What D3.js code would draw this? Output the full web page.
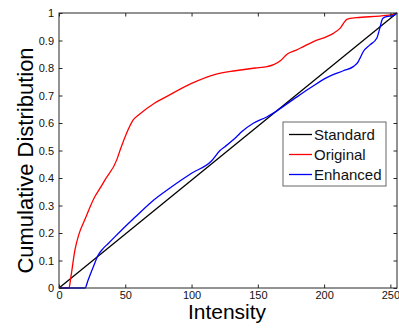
<!DOCTYPE html>
<html>
<head>
<meta charset="utf-8">
<script src="https://cdn.jsdelivr.net/npm/d3@7"></script>
<style>
  body { margin: 0; background: #fff; }
  text { font-family: "Liberation Sans", Arial, sans-serif; }
</style>
</head>
<body>
<div id="chart"></div>
<script>
// intensity values (0-255) and cumulative distribution values
const standardX = [0, 255];
const standardY = [0, 1];

const originalX = [0, 7.5, 9, 12, 15, 19.6, 27, 31, 34.7, 43.5, 46, 51, 56, 60, 72, 80, 100, 118, 133, 148, 157, 162, 167, 172, 179, 184, 192, 202, 207, 212, 217.5, 224.6, 242, 252, 255];
const originalY = [0, 0, 0.041, 0.138, 0.195, 0.25, 0.332, 0.363, 0.393, 0.465, 0.5, 0.563, 0.611, 0.629, 0.672, 0.693, 0.744, 0.777, 0.79, 0.8, 0.805, 0.812, 0.826, 0.85, 0.865, 0.877, 0.896, 0.914, 0.926, 0.944, 0.978, 0.983, 0.989, 0.995, 1];

const enhancedX = [0, 19.6, 22, 25.9, 29.6, 33.4, 37.2, 47.3, 57.3, 70, 85, 100, 115, 121.5, 125.2, 134, 137.8, 146.6, 156.7, 161.7, 176.8, 189.4, 202, 214.5, 222, 225.8, 227, 229.6, 234.6, 239.7, 242, 244.2, 247.2, 252, 255];
const enhancedY = [0, 0, 0.029, 0.077, 0.12, 0.144, 0.162, 0.211, 0.257, 0.314, 0.368, 0.417, 0.462, 0.5, 0.514, 0.55, 0.568, 0.599, 0.622, 0.636, 0.686, 0.727, 0.765, 0.79, 0.805, 0.823, 0.835, 0.86, 0.884, 0.908, 0.944, 0.98, 0.987, 0.99, 1];

const xTicks = [0, 50, 100, 150, 200, 250];
const yTicks = [0, 0.1, 0.2, 0.3, 0.4, 0.5, 0.6, 0.7, 0.8, 0.9, 1];

const series = [
    {name: "Standard", color: "#000000", xs: standardX, ys: standardY},
    {name: "Original", color: "#ff0000", xs: originalX, ys: originalY},
    {name: "Enhanced", color: "#0000ff", xs: enhancedX, ys: enhancedY}
];

const W = 399, H = 329;
const M = {left: 59, top: 13, right: 2, bottom: 41};
const width = W - M.left - M.right;
const height = H - M.top - M.bottom;

const svg = d3.select("#chart").append("svg")
    .attr("width", W)
    .attr("height", H);

const g = svg.append("g")
    .attr("transform", "translate(" + M.left + "," + M.top + ")");

const x = d3.scaleLinear().domain([0, 255]).range([0, width]);
const y = d3.scaleLinear().domain([0, 1]).range([height, 0]);

const line = d3.line()
    .x(d => x(d[0]))
    .y(d => y(d[1]))
    .curve(d3.curveMonotoneX);

series.forEach(s => {
    const pts = s.xs.map((v, i) => [v, s.ys[i]]);
    g.append("path")
        .datum(pts)
        .attr("fill", "none")
        .attr("stroke", s.color)
        .attr("stroke-width", 1.3)
        .attr("stroke-linejoin", "round")
        .attr("d", line);
});

// axes, MATLAB style: ticks inward on all sides
const tickLen = 3.5;
const axisColor = "#262626";

const xb = g.append("g")
    .attr("transform", "translate(0," + height + ")")
    .call(d3.axisBottom(x).tickValues(xTicks).tickSizeInner(-tickLen).tickSizeOuter(0).tickPadding(3));
const yl = g.append("g")
    .call(d3.axisLeft(y).tickValues(yTicks).tickSizeInner(-tickLen).tickSizeOuter(0).tickPadding(5)
        .tickFormat(d => d3.format("~g")(d)));
const xt = g.append("g")
    .call(d3.axisTop(x).tickValues(xTicks).tickSizeInner(-tickLen).tickSizeOuter(0).tickFormat(""));
const yr = g.append("g")
    .attr("transform", "translate(" + width + ",0)")
    .call(d3.axisRight(y).tickValues(yTicks).tickSizeInner(-tickLen).tickSizeOuter(0).tickFormat(""));

[xb, yl, xt, yr].forEach(a => {
    a.select(".domain").remove();
    a.selectAll("line").attr("stroke", axisColor);
    a.selectAll("text")
        .attr("fill", "#111")
        .style("font-size", "11px")
        .style("font-family", "'Liberation Sans', Arial, sans-serif");
});

g.append("rect")
    .attr("x", 0).attr("y", 0)
    .attr("width", width).attr("height", height)
    .attr("fill", "none")
    .attr("stroke", axisColor)
    .attr("stroke-width", 1);

// axis titles
svg.append("text")
    .attr("x", M.left + width / 2 - 1)
    .attr("y", 319)
    .attr("text-anchor", "middle")
    .style("font-size", "21px")
    .text("Intensity");

svg.append("text")
    .attr("transform", "translate(33," + (M.top + height / 2 + 10) + ") rotate(-90)")
    .attr("text-anchor", "middle")
    .style("font-size", "22px")
    .text("Cumulative Distribution");

// legend
const lg = svg.append("g").attr("transform", "translate(283,122)");
lg.append("rect")
    .attr("width", 103).attr("height", 64)
    .attr("fill", "#fff")
    .attr("stroke", "#666")
    .attr("stroke-width", 1);
series.forEach((s, i) => {
    const yy = 12.5 + i * 20;
    lg.append("line")
        .attr("x1", 6).attr("x2", 29)
        .attr("y1", yy).attr("y2", yy)
        .attr("stroke", s.color)
        .attr("stroke-width", 1.3);
    lg.append("text")
        .attr("x", 31)
        .attr("y", yy)
        .attr("dy", "0.35em")
        .style("font-size", "15px")
        .attr("fill", "#111")
        .text(s.name);
});
</script>
</body>
</html>
